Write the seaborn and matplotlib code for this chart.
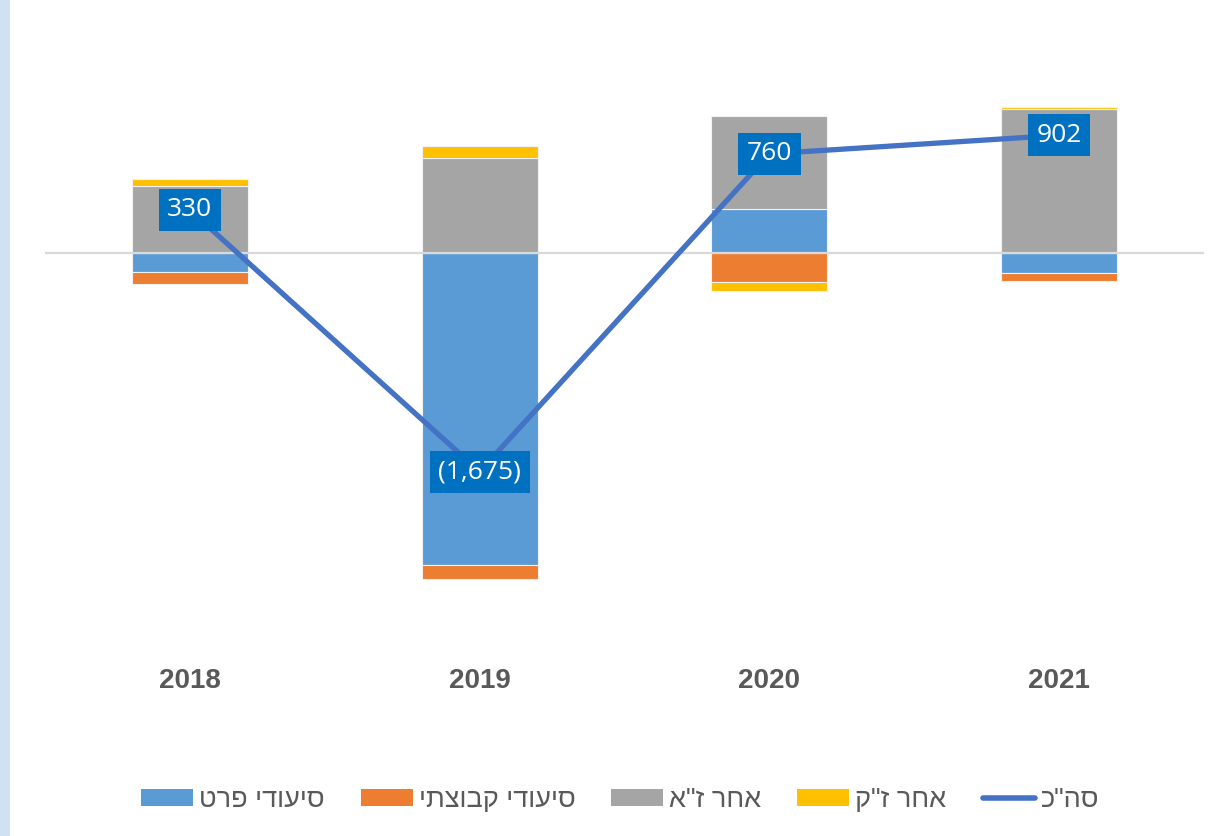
import numpy as np
import pandas as pd
import matplotlib
matplotlib.use("Agg")
import matplotlib.pyplot as plt
from matplotlib.patches import Patch, Rectangle
from matplotlib.lines import Line2D
import seaborn as sns

# ---- data (millions) ----
years = ["2018", "2019", "2020", "2021"]
private_care = [-143, -2390, 340, -155]      # סיעודי פרט
group_care = [-97, -105, -220, -63]          # סיעודי קבוצתי
other_long = [515, 728, 710, 1100]           # אחר ז"א
other_short = [55, 92, -70, 20]              # אחר ז"ק
totals = [330, -1675, 760, 902]              # סה"כ

series_names = ["סיעודי פרט", "סיעודי קבוצתי", "אחר ז\"א", "אחר ז\"ק"]
total_name = "סה\"כ"
series_values = [private_care, group_care, other_long, other_short]
series_colors = ["#5b9bd5", "#ed7d31", "#a5a5a5", "#ffc000"]
line_color = "#4472c4"
label_box = "#0070c0"
text_gray = "#595959"


def rtl(s):
    # matplotlib lays glyphs out left to right, so Hebrew is fed in visual order
    return s[::-1]


sns.set_theme(style="white")
plt.rcParams["font.family"] = ["Liberation Sans", "DejaVu Sans"]

fig = plt.figure(figsize=(12.16, 8.36), dpi=100)
W, H = 1216, 836
ax = fig.add_axes([45 / W, 1 - 644.5 / H, (1204 - 45) / W, (644.5 - 57.25) / H])

# light side strip
fig.patches.append(Rectangle((0, 0), 10 / W, 1, transform=fig.transFigure,
                             facecolor="#cfe1f3", edgecolor="none", zorder=0))

# stacked bars: positives stack upward, negatives downward
pos_base = np.zeros(len(years))
neg_base = np.zeros(len(years))
for name, vals, col in zip(series_names, series_values, series_colors):
    vals = np.asarray(vals, dtype=float)
    bottoms = np.where(vals >= 0, pos_base, neg_base)
    df = pd.DataFrame({"year": years, "value": vals})
    sns.barplot(data=df, x="year", y="value", order=years, bottom=bottoms,
                color=col, width=0.4, edgecolor="#f2f2f2", linewidth=0.8,
                saturation=1, ax=ax, zorder=2)
    pos_base = pos_base + np.where(vals >= 0, vals, 0)
    neg_base = neg_base + np.where(vals < 0, vals, 0)

ax.axhline(0, color="#d9d9d9", lw=1.6, zorder=2.5)

# total line
sns.lineplot(x=np.arange(len(years)), y=totals, color=line_color, lw=3.8,
             ax=ax, zorder=4)

for i, v in enumerate(totals):
    txt = f"({abs(v):,})" if v < 0 else f"{v:,}"
    ax.text(i, v, txt, ha="center", va="center", fontsize=19, color="white",
            family=["Open Sans", "DejaVu Sans"], zorder=5,
            bbox=dict(boxstyle="square,pad=0.32", facecolor=label_box,
                      edgecolor="none"))

ax.set_xlim(-0.5, 3.5)
ax.set_ylim(-3000, 1500)
ax.set_xticks(range(len(years)))
ax.set_xticklabels(years, fontsize=20, fontweight="bold", color=text_gray)
ax.tick_params(axis="x", length=0, pad=17)
ax.set_yticks([])
ax.set_xlabel("")
ax.set_ylabel("")
for sp in ax.spines.values():
    sp.set_visible(False)
ax.set_facecolor("none")

handles = [Patch(facecolor=c, edgecolor="none") for c in series_colors]
handles.append(Line2D([0], [0], color=line_color, lw=4, solid_capstyle="round"))
labels = [rtl(n) for n in series_names] + [rtl(total_name)]
leg = fig.legend(handles, labels, loc="center", ncol=5, frameon=False,
                 bbox_to_anchor=(620 / W, 1 - 800 / H), fontsize=19.5,
                 handlelength=1.92, handleheight=0.63, handletextpad=0.22,
                 columnspacing=1.33)
for t in leg.get_texts():
    t.set_color(text_gray)

fig.savefig("out.png", dpi=100)
